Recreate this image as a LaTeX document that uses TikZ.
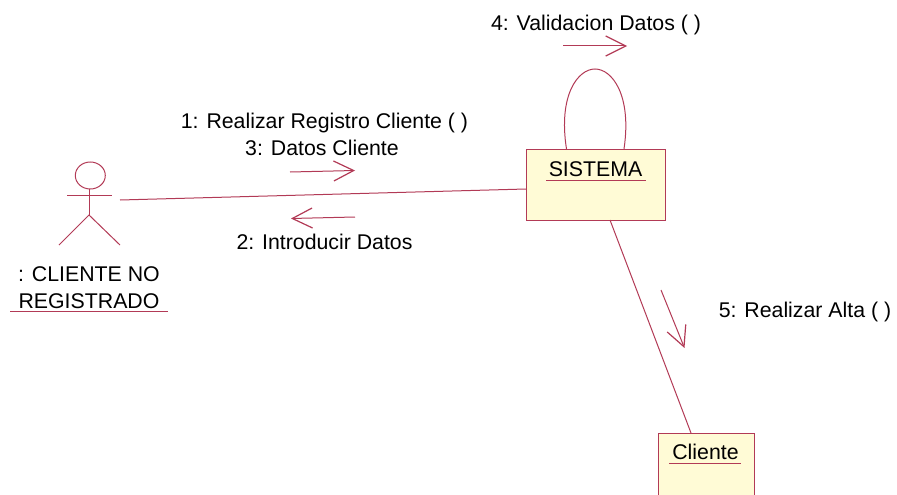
\documentclass[tikz,border=0pt]{standalone}
\usepackage{fontspec}
\setmainfont{Liberation Sans}
\usetikzlibrary{arrows.meta}
\definecolor{umlline}{HTML}{B23A56}
\definecolor{umlfill}{HTML}{FFFBD6}
\tikzset{x=1pt,y=-1pt,
    every node/.style={inner sep=0pt,text=black,font=\fontsize{21.3}{25}\selectfont},
    umlobject/.style={draw=umlline,fill=umlfill,line width=1pt,rectangle},
    umlline/.style={draw=umlline,line width=1pt},
    umlmsg/.style={draw=umlline,line width=1pt,-{Straight Barb[length=20pt,width=20pt,line width=1.2pt]}},
    }

\begin{document}
\begin{tikzpicture}
\clip (0,0) rectangle (897,495);
\useasboundingbox (0,0) rectangle (897,495);
\node[umlobject,minimum width=139pt,minimum height=71pt] (sistema) at (595.5,184.5) {};
\node[umlobject,minimum width=96pt,minimum height=82pt] (cliente) at (706,474) {};
\node (sistemalabel) at (595.5,169) {SISTEMA};
\node (clientelabel) at (705.5,452) {Cliente};
\draw[umlline] (546,180.5) -- (646,180.5);
\draw[umlline] (669,463) -- (741,463);
% actor
\draw[umlline] (90.3,175.5) ellipse (15 and 13.5);
\coordinate (head) at (89,189);
\coordinate (hip) at (89,215);
\coordinate (armleft) at (67,195);
\coordinate (armright) at (112,195);
\coordinate (legleft) at (59,245);
\coordinate (legright) at (120,245);
\draw[umlline] (head) -- (hip);
\draw[umlline] (armleft) -- (armright);
\draw[umlline] (legleft) -- (hip) -- (legright);
\node (actorname) at (89,274.5) {: CLIENTE NO};
\node (actorname2) at (89,301.5) {REGISTRADO};
\draw[umlline] (10,311) -- (168,311);
% links
\coordinate (actorend) at (120,200);
\coordinate (sistemaw) at (526,189);
\coordinate (sistemas) at (610,220);
\coordinate (clienten) at (691,433);
\coordinate (loopa) at (566.5,149);
\coordinate (loopb) at (624,149);
\draw[umlline] (actorend) -- (sistemaw);
\draw[umlline] (sistemas) -- (clienten);
\draw[umlline] (loopa) .. controls (558,95) and (578,69) .. (595,69) .. controls (612,69) and (632,95) .. (loopb);
% messages
\node (msga) at (324.5,123) {1: Realizar Registro Cliente ( )};
\node (msgc) at (322,148) {3: Datos Cliente};
\node (msgb) at (324.5,242) {2: Introducir Datos};
\node (msgd) at (596,25) {4: Validacion Datos ( )};
\node (msge) at (805,312) {5: Realizar Alta ( )};
\coordinate (ma1) at (290,172);
\coordinate (ma2) at (355,170.5);
\coordinate (mb1) at (355,217);
\coordinate (mb2) at (291,218.5);
\coordinate (md1) at (563,46);
\coordinate (md2) at (627,46);
\coordinate (me1) at (661,290);
\coordinate (me2) at (684.5,348);
\draw[umlmsg] (ma1) -- (ma2);
\draw[umlmsg] (mb1) -- (mb2);
\draw[umlmsg] (md1) -- (md2);
\draw[umlmsg] (me1) -- (me2);
\end{tikzpicture}
\end{document}
